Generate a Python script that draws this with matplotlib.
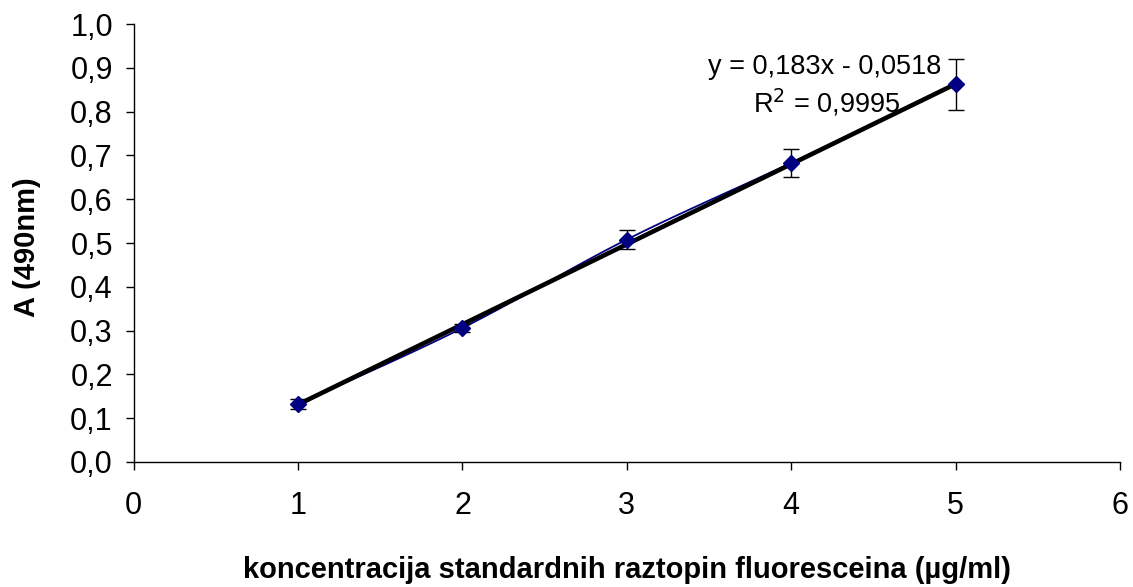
import numpy as np
import matplotlib
matplotlib.use("Agg")
import matplotlib.pyplot as plt
from matplotlib.ticker import FuncFormatter, MultipleLocator

plt.rcParams['font.family'] = ['Liberation Sans', 'DejaVu Sans']

# Fluorescein standard solutions: concentration vs absorbance at 490 nm
conc = [1, 2, 3, 4, 5]
absorb = [0.132, 0.306, 0.508, 0.683, 0.862]
err = [0.012, 0.010, 0.022, 0.032, 0.058]

slope = 0.183
intercept = -0.0518
r2_text = "0,9995"


def catmull_rom(xs, ys, n=30):
    xs = np.asarray(xs, float)
    ys = np.asarray(ys, float)
    px = np.concatenate([[2 * xs[0] - xs[1]], xs, [2 * xs[-1] - xs[-2]]])
    py = np.concatenate([[2 * ys[0] - ys[1]], ys, [2 * ys[-1] - ys[-2]]])
    ox, oy = [], []
    for i in range(1, len(px) - 2):
        t = np.linspace(0, 1, n)
        for arr, out in ((px, ox), (py, oy)):
            p0, p1, p2, p3 = arr[i - 1], arr[i], arr[i + 1], arr[i + 2]
            out.extend(0.5 * ((2 * p1) + (-p0 + p2) * t
                              + (2 * p0 - 5 * p1 + 4 * p2 - p3) * t ** 2
                              + (-p0 + 3 * p1 - 3 * p2 + p3) * t ** 3))
    return np.array(ox), np.array(oy)


fig = plt.figure(figsize=(11.33, 5.87), dpi=100)
ax = fig.add_axes([0.118, 0.213, 0.8705, 0.746])

# smoothed connecting line through the measured points
sx, sy = catmull_rom(conc, absorb)
ax.plot(sx, sy, color='#000080', lw=1.3, zorder=2)

# linear trend line
tx = np.array([conc[0], conc[-1]])
ax.plot(tx, slope * tx + intercept, color='black', lw=3.3, zorder=3)

ax.errorbar(conc, absorb, yerr=err, fmt='none', ecolor='black',
            elinewidth=1, capsize=5.5, capthick=1, zorder=4)
ax.plot(conc, absorb, linestyle='none', marker='D', markersize=8,
        color='#000080', zorder=5)

ax.set_xlim(0, 6)
ax.set_ylim(0, 1.0)
ax.xaxis.set_major_locator(MultipleLocator(1))
ax.yaxis.set_major_locator(MultipleLocator(0.1))
ax.yaxis.set_major_formatter(FuncFormatter(lambda v, p: f"{v:.1f}".replace('.', ',')))
ax.xaxis.set_major_formatter(FuncFormatter(lambda v, p: f"{v:.0f}"))

for s in ('top', 'right'):
    ax.spines[s].set_visible(False)
for s in ('left', 'bottom'):
    ax.spines[s].set_linewidth(1)
    ax.spines[s].set_color('black')

ax.tick_params(axis='both', direction='out', length=6, width=1,
               labelsize=22, colors='black')
ax.tick_params(axis='x', pad=15)
ax.tick_params(axis='y', pad=9)

ax.set_ylabel('A (490nm)', fontsize=21, fontweight='bold')
ax.yaxis.set_label_coords(-0.094, 0.49)
ax.set_xlabel('koncentracija standardnih raztopin fluoresceina (µg/ml)',
              fontsize=21, fontweight='bold')
ax.xaxis.set_label_coords(0.5, -0.215)

eq = f"y = {slope:.3f}x - {abs(intercept):.4f}".replace('.', ',')
ax.text(4.205, 0.902, eq, fontsize=19.5, ha='center', va='center')
ax.text(4.215, 0.82, r"R$^2$ = " + r2_text, fontsize=19.5, ha='center', va='center')

fig.savefig('out.png', dpi=100, facecolor='white')
